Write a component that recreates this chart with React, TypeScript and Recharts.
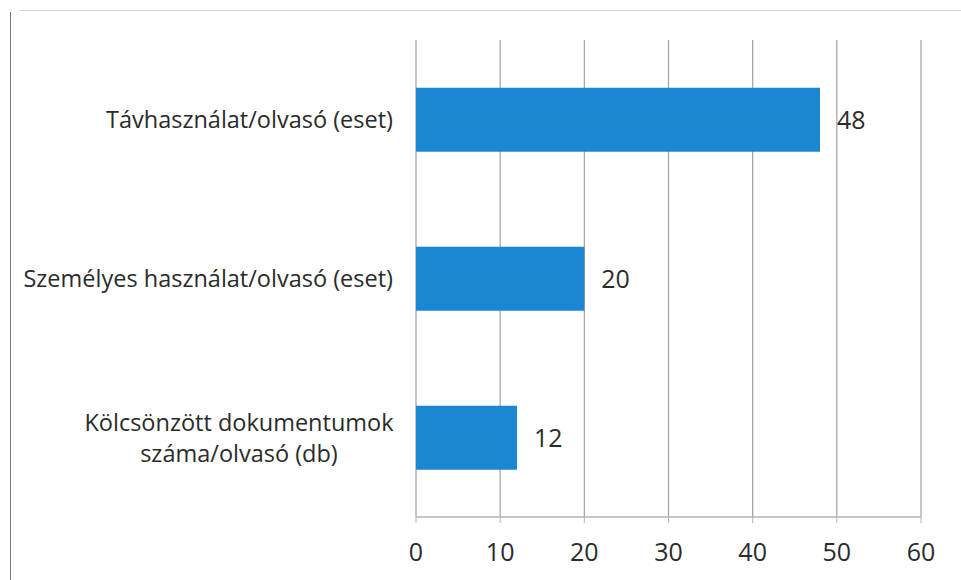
import React from "react";
import { BarChart, Bar, XAxis, YAxis, CartesianGrid, LabelList } from "recharts";

const categories = [
  "Távhasználat/olvasó (eset)",
  "Személyes használat/olvasó (eset)",
  "Kölcsönzött dokumentumok\nszáma/olvasó (db)",
];
const values = [48, 20, 12];
const xTicks = [0, 10, 20, 30, 40, 50, 60];

const data = categories.map((c, i) => ({ name: c, value: values[i] }));

const FONT = "'Open Sans', Lato, sans-serif";
const TEXT = "#2b2b2b";

const CategoryTick = (props: any) => {
  const { x, y, payload } = props;
  const lines = String(payload.value).split("\n");
  if (lines.length === 1) {
    return (
      <text x={x - 15} y={y} dy="0.36em" textAnchor="end" fontFamily={FONT} fontSize={23.5} fill={TEXT}>
        {lines[0]}
      </text>
    );
  }
  const lh = 31;
  const start = -((lines.length - 1) * lh) / 2;
  return (
    <text x={x - 169} y={y} textAnchor="middle" fontFamily={FONT} fontSize={23.5} fill={TEXT}>
      {lines.map((l, i) => (
        <tspan key={i} x={x - 169} dy={i === 0 ? start : lh} dominantBaseline="central">
          {l}
        </tspan>
      ))}
    </text>
  );
};

export default function App() {
  return (
    <div
      style={{
        position: "absolute",
        left: 0,
        top: 0,
        width: 961,
        height: 580,
        background: "#fff",
      }}
    >
      <div
        style={{
          position: "absolute",
          left: 20,
          top: 10,
          width: 941,
          height: 0,
          borderTop: "1px solid #d4d4d4",
        }}
      />
      <div
        style={{
          position: "absolute",
          left: 10,
          top: 12,
          width: 0,
          height: 568,
          borderLeft: "1.5px solid #777",
        }}
      />
      <BarChart
        width={961}
        height={580}
        data={data}
        layout="vertical"
        margin={{ top: 40, right: 40, bottom: 0, left: 0 }}
        barCategoryGap="30%"
      >
        <CartesianGrid horizontal={false} vertical={true} stroke="#a0a0a0" strokeWidth={1.2} />
        <XAxis
          type="number"
          domain={[0, 60]}
          ticks={xTicks}
          height={63}
          axisLine={{ stroke: "#b5b5b5", strokeWidth: 1.5 }}
          tickLine={{ stroke: "#b5b5b5" }}
          tickSize={6}
          tickMargin={20}
          tick={{ fontFamily: FONT, fontSize: 25, fill: TEXT }}
        />
        <YAxis
          type="category"
          dataKey="name"
          width={416}
          axisLine={false}
          tickLine={false}
          tick={<CategoryTick />}
        />
        <Bar dataKey="value" fill="#1b87d2" isAnimationActive={false}>
          <LabelList
            dataKey="value"
            position="right"
            offset={17}
            style={{ fontFamily: FONT, fontSize: 25, fill: TEXT }}
          />
        </Bar>
      </BarChart>
    </div>
  );
}
